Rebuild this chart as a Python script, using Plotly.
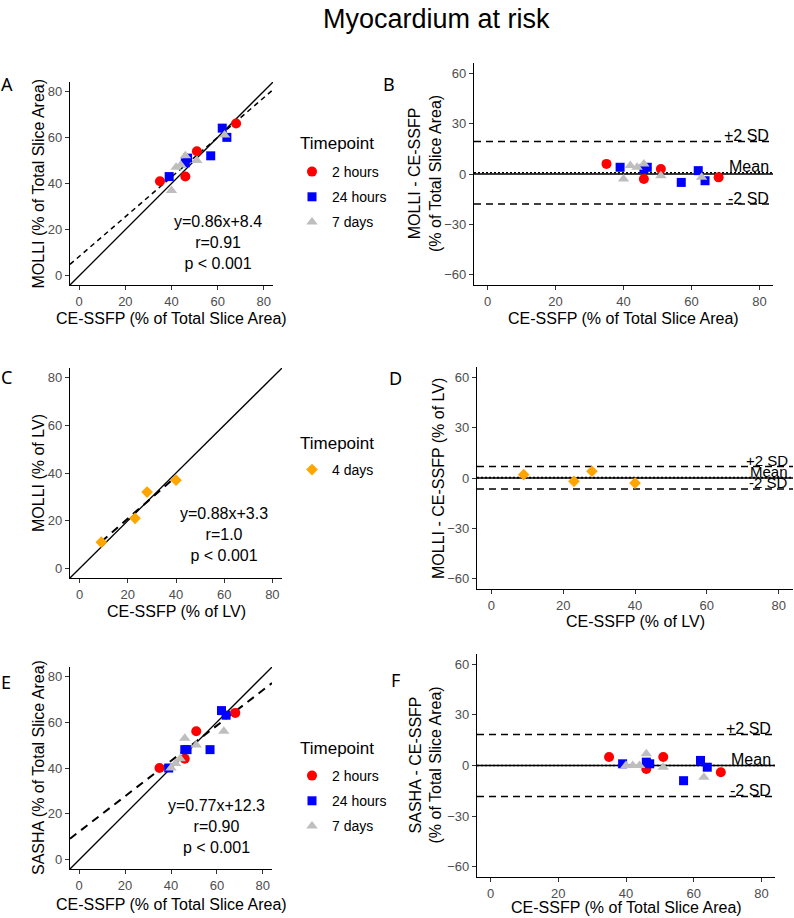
import plotly.graph_objects as go

# ---------------- data ----------------
ce_red = [35, 46, 51, 68]
molli_red = [41, 43, 54, 66]
sasha_red = [40, 44, 56, 64]
ce_blue = [39, 46, 47, 57, 62, 64]
molli_blue = [43, 49, 51, 52, 64, 60]
sasha_blue = [40, 48, 48, 48, 65, 63]
ce_grey = [40, 42, 44, 46, 51, 63]
molli_grey = [37, 47, 48, 52, 50, 61]
sasha_grey = [40, 42, 44, 53, 50, 56]
ce_lv = [9, 23, 28, 40]
molli_lv = [11, 21, 32, 37]

timepoints = ["2 hours", "24 hours", "7 days"]
timepoint_lv = "4 days"
legend_title = "Timepoint"

reg_slope = [0.86, 0.88, 0.77]
reg_intercept = [8.4, 3.3, 12.3]
reg_r = ["0.91", "1.0", "0.90"]
reg_p = ["p < 0.001", "p < 0.001", "p < 0.001"]

ba_upper = [19.3, 6.9, 18.3]
ba_mean = [0.7, 0.25, 0.0]
ba_lower = [-17.9, -6.5, -18.4]
ba_labels = ["+2 SD", "Mean", "-2 SD"]

x_ticks = [0, 20, 40, 60, 80]
y_ticks_corr = [0, 20, 40, 60, 80]
y_ticks_ba = [-60, -30, 0, 30, 60]
rng_corr = [-4, 84]
rng_ba = [-66, 66]

# ---------------- styles ----------------
W, H = 794, 918
FONT = "Liberation Sans, Arial, sans-serif"
RED, BLUE, GREY, ORANGE = "#FF0000", "#0000FF", "#BEBEBE", "#FFA500"
groups = [
    (RED, "circle", 10),
    (BLUE, "square", 9),
    (GREY, "triangle-up", 10),
]


def px_x(p):
    return p / W


def px_y(p):
    return 1 - p / H


# panel domains in pixels: (left, right, top, bottom)
panels = {
    1: (70, 273, 82, 285),
    2: (474, 773, 63, 285),
    3: (70, 282, 368, 578),
    4: (477, 793, 367, 589),
    5: (70, 272, 667, 869),
    6: (477, 775, 654, 877),
}

fig = go.Figure()


def ax(i):
    return ("x" if i == 1 else f"x{i}"), ("y" if i == 1 else f"y{i}")


def diff(a, b):
    return [ai - bi for ai, bi in zip(a, b)]


# --- correlation panels A (1) and E (5) ---
for pan, yvals, leg in [(1, [molli_red, molli_blue, molli_grey], "legend"),
                        (5, [sasha_red, sasha_blue, sasha_grey], "legend3")]:
    xa, ya = ax(pan)
    k = 0 if pan == 1 else 2
    fig.add_trace(go.Scatter(x=rng_corr, y=rng_corr, mode="lines", xaxis=xa, yaxis=ya,
                             line=dict(color="black", width=1.3), showlegend=False, hoverinfo="skip"))
    fig.add_trace(go.Scatter(x=rng_corr, y=[reg_slope[k] * v + reg_intercept[k] for v in rng_corr],
                             mode="lines", xaxis=xa, yaxis=ya,
                             line=dict(color="black", width=1.5 if pan == 1 else 2.0,
                                       dash="5px,4px" if pan == 1 else "8px,6px"),
                             showlegend=False, hoverinfo="skip"))
    xs = [ce_red, ce_blue, ce_grey]
    for g, (col, sym, sz) in enumerate(groups):
        fig.add_trace(go.Scatter(x=xs[g], y=yvals[g], mode="markers", xaxis=xa, yaxis=ya,
                                 marker=dict(color=col, symbol=sym, size=sz, line=dict(width=0)),
                                 name=timepoints[g], legend=leg, legendgroup=f"{leg}{g}",
                                 showlegend=True))

# --- correlation panel C (3) ---
fig.add_trace(go.Scatter(x=rng_corr, y=rng_corr, mode="lines", xaxis="x3", yaxis="y3",
                         line=dict(color="black", width=1.3), showlegend=False, hoverinfo="skip"))
xr = [min(ce_lv), max(ce_lv)]
fig.add_trace(go.Scatter(x=xr, y=[reg_slope[1] * v + reg_intercept[1] for v in xr], mode="lines",
                         xaxis="x3", yaxis="y3",
                         line=dict(color="black", width=2.0, dash="8px,6px"),
                         showlegend=False, hoverinfo="skip"))
fig.add_trace(go.Scatter(x=ce_lv, y=molli_lv, mode="markers", xaxis="x3", yaxis="y3",
                         marker=dict(color=ORANGE, symbol="diamond", size=9, line=dict(width=0)),
                         name=timepoint_lv, legend="legend2", showlegend=True))

# --- Bland-Altman panels B (2), F (6) ---
for pan, yvals in [(2, [molli_red, molli_blue, molli_grey]),
                   (6, [sasha_red, sasha_blue, sasha_grey])]:
    xa, ya = ax(pan)
    xs = [ce_red, ce_blue, ce_grey]
    for g, (col, sym, sz) in enumerate(groups):
        fig.add_trace(go.Scatter(x=xs[g], y=diff(yvals[g], xs[g]), mode="markers", xaxis=xa, yaxis=ya,
                                 marker=dict(color=col, symbol=sym, size=sz, line=dict(width=0)),
                                 showlegend=False))

# --- Bland-Altman panel D (4) ---
fig.add_trace(go.Scatter(x=ce_lv, y=diff(molli_lv, ce_lv), mode="markers", xaxis="x4", yaxis="y4",
                         marker=dict(color=ORANGE, symbol="diamond", size=9, line=dict(width=0)),
                         showlegend=False))

# reference lines and labels for BA panels
shapes = []
annotations = []
for j, pan in enumerate([2, 4, 6]):
    xa, ya = ax(pan)
    shapes.append(dict(type="line", xref=f"{xa} domain", yref=ya, x0=0, x1=1, y0=0, y1=0,
                       line=dict(color="black", width=1.3), layer="below"))
    shapes.append(dict(type="line", xref=f"{xa} domain", yref=ya, x0=0, x1=1,
                       y0=ba_mean[j], y1=ba_mean[j],
                       line=dict(color="black", width=1.6, dash="2px,2px"), layer="below"))
    for val in (ba_upper[j], ba_lower[j]):
        shapes.append(dict(type="line", xref=f"{xa} domain", yref=ya, x0=0, x1=1, y0=val, y1=val,
                           line=dict(color="black", width=1.5, dash="7px,5px"), layer="below"))
    fs = 15 if pan == 4 else 16
    for lab, val in zip(ba_labels, [ba_upper[j], ba_mean[j], ba_lower[j]]):
        annotations.append(dict(text=lab, xref=xa, yref=ya, x=83.3, y=val, xanchor="right",
                                yanchor="middle", yshift=6, showarrow=False,
                                font=dict(family=FONT, size=fs, color="black")))

# stats text for correlation panels
for j, pan in enumerate([1, 3, 5]):
    xa, ya = ax(pan)
    annotations.append(dict(text=f"y={reg_slope[j]:.2f}x+{reg_intercept[j]:.1f}<br>r={reg_r[j]}<br>{reg_p[j]}",
                            xref=xa, yref=ya, x=60, y=14.3, xanchor="center", yanchor="middle",
                            align="center", showarrow=False,
                            font=dict(family=FONT, size=16, color="black")))

# axis titles (px positions)
x_titles = {
    1: ("CE-SSFP (% of Total Slice Area)", 318),
    2: ("CE-SSFP (% of Total Slice Area)", 318),
    3: ("CE-SSFP (% of LV)", 611),
    4: ("CE-SSFP (% of LV)", 621),
    5: ("CE-SSFP (% of Total Slice Area)", 904),
    6: ("CE-SSFP (% of Total Slice Area)", 907),
}
y_titles = {
    1: ("MOLLI (% of Total Slice Area)", 38),
    2: ("MOLLI - CE-SSFP<br>(% of Total Slice Area)", 425),
    3: ("MOLLI (% of LV)", 38),
    4: ("MOLLI - CE-SSFP (% of LV)", 438),
    5: ("SASHA (% of Total Slice Area)", 38),
    6: ("SASHA - CE-SSFP<br>(% of Total Slice Area)", 425),
}
for pan in panels:
    xa, ya = ax(pan)
    t, yp = x_titles[pan]
    annotations.append(dict(text=t, xref=f"{xa} domain", yref="paper", x=0.5, y=px_y(yp),
                            xanchor="center", yanchor="middle", showarrow=False,
                            font=dict(family=FONT, size=16, color="black")))
    t, xp = y_titles[pan]
    annotations.append(dict(text=t, xref="paper", yref=f"{ya} domain", x=px_x(xp), y=0.5,
                            xanchor="center", yanchor="middle", textangle=-90, showarrow=False,
                            align="center", font=dict(family=FONT, size=16, color="black")))

# legend titles (as text so item spacing can match)
for ty in (143, 443, 748):
    annotations.append(dict(text=legend_title, xref="paper", yref="paper", x=px_x(298), y=px_y(ty),
                            xanchor="left", yanchor="middle", showarrow=False,
                            font=dict(family=FONT, size=17, color="black")))

# panel letters
letters = [("A", 7, 84), ("B", 389, 84), ("C", 6, 377), ("D", 395, 378), ("E", 6, 682), ("F", 395, 680)]
for lt, lx, ly in letters:
    annotations.append(dict(text=lt, xref="paper", yref="paper", x=px_x(lx), y=px_y(ly),
                            xanchor="center", yanchor="middle", showarrow=False,
                            font=dict(family="Noto Sans, Open Sans, sans-serif", size=18, color="black")))

# main title
annotations.append(dict(text="Myocardium at risk", xref="paper", yref="paper", x=px_x(436), y=px_y(19),
                        xanchor="center", yanchor="middle", showarrow=False,
                        font=dict(family=FONT, size=27, color="black")))

layout = dict(
    width=W, height=H, margin=dict(l=0, r=0, t=0, b=0),
    paper_bgcolor="white", plot_bgcolor="white",
    shapes=shapes, annotations=annotations, hovermode=False,
)

for pan, (l, r, t, b) in panels.items():
    xa, ya = ax(pan)
    xkey = "xaxis" if pan == 1 else f"xaxis{pan}"
    ykey = "yaxis" if pan == 1 else f"yaxis{pan}"
    ba = pan in (2, 4, 6)
    common = dict(showgrid=False, zeroline=False, showline=True, linecolor="black", linewidth=1.3,
                  ticks="outside", ticklen=4, tickwidth=1, tickcolor="#333333",
                  tickfont=dict(family=FONT, size=13, color="#4D4D4D"), fixedrange=True)
    layout[xkey] = dict(domain=[px_x(l), px_x(r)], range=rng_corr, tickvals=x_ticks,
                        anchor=ya, **common)
    layout[ykey] = dict(domain=[px_y(b), px_y(t)], range=rng_ba if ba else rng_corr,
                        tickvals=y_ticks_ba if ba else y_ticks_corr, anchor=xa, **common)

leg_common = dict(xanchor="left", yanchor="top", bgcolor="rgba(0,0,0,0)",
                  font=dict(family=FONT, size=14, color="black"), tracegroupgap=4)
layout["legend"] = dict(x=px_x(292), y=px_y(156), **leg_common)
layout["legend2"] = dict(x=px_x(292), y=px_y(454), **leg_common)
layout["legend3"] = dict(x=px_x(292), y=px_y(760), **leg_common)

fig.update_layout(**layout)
fig.write_html("out.html")
